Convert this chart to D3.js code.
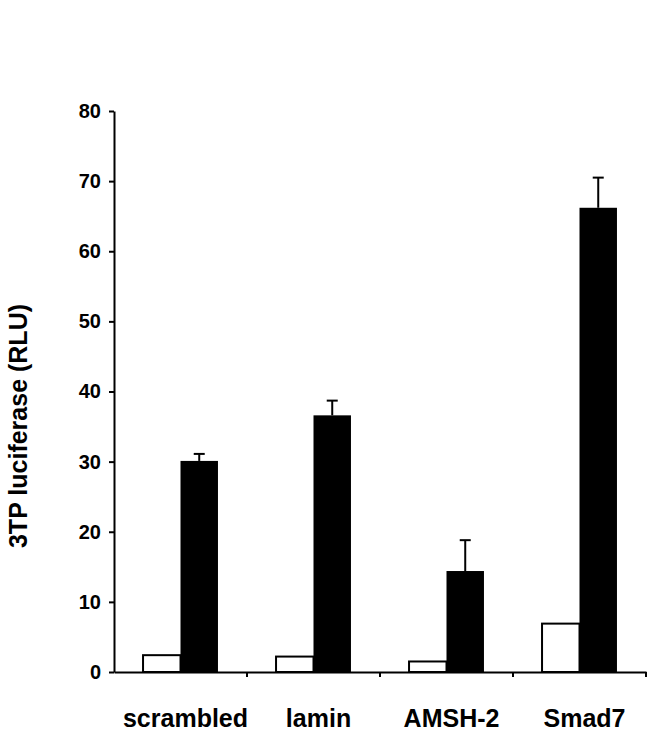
<!DOCTYPE html>
<html>
<head>
<meta charset="utf-8">
<script src="https://cdn.jsdelivr.net/npm/d3@7"></script>
<style>
  body { margin: 0; background: #fff; }
  svg text { font-family: "Liberation Sans", Arial, sans-serif; font-weight: bold; fill: #000; }
</style>
</head>
<body>
<div id="chart"></div>
<script>
// values
const categories = ['scrambled', 'lamin', 'AMSH-2', 'Smad7'];
const groups = ['control', 'treated'];
const controlValues = [2.4, 2.2, 1.5, 6.9];
const treatedValues = [30.1, 36.6, 14.4, 66.2];
const treatedErrors = [1.0, 2.1, 4.4, 4.3];
const yTicks = [0, 10, 20, 30, 40, 50, 60, 70, 80];

const width = 668, height = 734;

const svg = d3.select('#chart')
    .append('svg')
    .attr('width', width)
    .attr('height', height);

const x = d3.scaleBand()
    .domain(categories)
    .range([114, 646])
    .padding(0);

const xSub = d3.scaleBand()
    .domain(groups)
    .range([0, x.bandwidth()])
    .paddingInner(0)
    .paddingOuter(0.775);

const y = d3.scaleLinear()
    .domain([0, 80])
    .range([672, 111]);

// bars
const rows = categories.map((c, i) => ({
    cat: c,
    control: controlValues[i],
    treated: treatedValues[i],
    err: treatedErrors[i]
}));

const g = svg.append('g');

g.selectAll('.ctrl')
    .data(rows)
    .join('rect')
    .attr('class', 'ctrl')
    .attr('x', d => x(d.cat) + xSub('control'))
    .attr('y', d => y(d.control))
    .attr('width', xSub.bandwidth())
    .attr('height', d => y(0) - y(d.control))
    .attr('fill', '#fff')
    .attr('stroke', '#000')
    .attr('stroke-width', 2);

// error bars (upper only)
const cx = d => x(d.cat) + xSub('treated') + xSub.bandwidth() / 2;

g.selectAll('.err')
    .data(rows)
    .join('line')
    .attr('class', 'err')
    .attr('x1', cx)
    .attr('x2', cx)
    .attr('y1', d => y(d.treated))
    .attr('y2', d => y(d.treated + d.err))
    .attr('stroke', '#000')
    .attr('stroke-width', 2);

g.selectAll('.cap')
    .data(rows)
    .join('line')
    .attr('class', 'cap')
    .attr('x1', d => cx(d) - 5.5)
    .attr('x2', d => cx(d) + 5.5)
    .attr('y1', d => y(d.treated + d.err))
    .attr('y2', d => y(d.treated + d.err))
    .attr('stroke', '#000')
    .attr('stroke-width', 2);

g.selectAll('.trt')
    .data(rows)
    .join('rect')
    .attr('class', 'trt')
    .attr('x', d => x(d.cat) + xSub('treated'))
    .attr('y', d => y(d.treated))
    .attr('width', xSub.bandwidth())
    .attr('height', d => y(0) - y(d.treated))
    .attr('fill', '#000');

// y axis
const yAxis = svg.append('g')
    .attr('transform', 'translate(114,0)')
    .call(d3.axisLeft(y).tickValues(yTicks).tickSize(5).tickSizeOuter(0).tickPadding(8));
yAxis.select('.domain').attr('stroke-width', 2);
yAxis.selectAll('.tick line').attr('stroke-width', 2);
yAxis.selectAll('.tick text').style('font-size', '20px');

// x axis: labels centred under groups, ticks at group boundaries
const xAxis = svg.append('g')
    .attr('transform', `translate(0,${y(0)})`)
    .call(d3.axisBottom(x).tickSize(0).tickSizeOuter(0).tickPadding(37));
xAxis.select('.domain').attr('stroke-width', 2);
xAxis.selectAll('.tick text')
    .style('font-size', '25px')
    .attr('dx', 5);

xAxis.selectAll('.sep')
    .data(categories.slice(1).concat(['end']))
    .join('line')
    .attr('class', 'sep')
    .attr('x1', d => d === 'end' ? x.range()[1] : x(d))
    .attr('x2', d => d === 'end' ? x.range()[1] : x(d))
    .attr('y1', 0)
    .attr('y2', 5)
    .attr('stroke', '#000')
    .attr('stroke-width', 2);

// y label
svg.append('text')
    .attr('transform', 'translate(27,426) rotate(-90)')
    .attr('text-anchor', 'middle')
    .style('font-size', '25px')
    .text('3TP luciferase (RLU)');
</script>
</body>
</html>
